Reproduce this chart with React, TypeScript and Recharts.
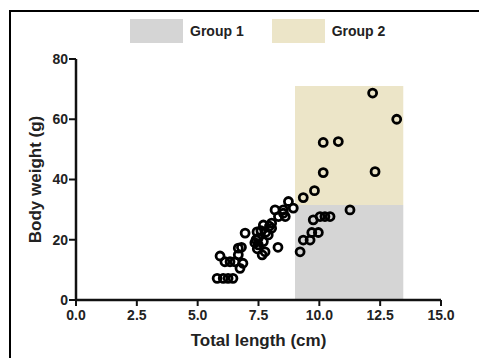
import {
  ScatterChart, Scatter, XAxis, YAxis, ReferenceArea, Legend,
} from 'recharts';

// Scatter points
const lengths = [
  5.8, 6.05, 6.25, 6.45, 5.92, 6.12, 6.33, 6.53, 6.67, 6.67, 6.74, 6.86, 6.8, 6.95,
  7.44, 7.49, 7.49, 7.7, 7.77, 7.65, 7.7, 7.9, 8.04, 8.04, 8.18, 8.32, 8.52, 8.6,
  8.73, 8.93, 8.3, 7.4, 7.45, 7.6, 7.8, 7.95, 7.35, 8.52,
  9.21, 9.34, 9.62, 9.69, 9.96, 9.75, 10.03, 10.23, 10.44, 11.26, 9.34, 9.8,
  10.16, 10.78, 10.16, 12.29, 12.19, 13.18,
];
const weights = [
  7.2, 7.2, 7.2, 7.2, 14.6, 12.7, 12.7, 12.7, 15, 17.2, 10.5, 12.2, 17.5, 22.2,
  22.6, 20.5, 18.3, 19.4, 16, 15, 24.9, 21.6, 23.8, 25.5, 29.9, 27.7, 29.9, 27.7,
  32.7, 30.5, 17.5, 20, 17, 23, 22.5, 24.5, 19, 28.8,
  16, 19.9, 19.9, 22.4, 22.4, 26.6, 27.7, 27.7, 27.7, 29.9, 34, 36.3,
  52.3, 52.6, 42.3, 42.6, 68.7, 60,
];

const groupNames = ['Group 1', 'Group 2'];
const groupColors = ['#d5d5d5', '#ece5c8'];
const groupX = [9, 13.45];
const groupY = [0, 31.5, 71];

const xTicks = [0, 2.5, 5, 7.5, 10, 12.5, 15];
const yTicks = [0, 20, 40, 60, 80];

const points = lengths.map((x, i) => ({ x, y: weights[i] }));

const font = '"Liberation Sans", Arial, sans-serif';

function LegendBox() {
  return (
    <div style={{ display: 'flex', alignItems: 'center', height: 24, paddingBottom: 16, fontFamily: font, fontWeight: 'bold', fontSize: 14, color: '#222' }}>
      {groupNames.map((name, i) => (
        <div key={name} style={{ display: 'flex', alignItems: 'center', marginRight: 28 }}>
          <div style={{ width: 53, height: 24, background: groupColors[i], marginRight: 7 }} />
          <span>{name}</span>
        </div>
      ))}
    </div>
  );
}

const Ring = (props: any) => (
  <circle cx={props.cx} cy={props.cy} r={4} fill="none" stroke="#000" strokeWidth={2.8} />
);

export default function App() {
  const tick = { fontSize: 14, fontWeight: 'bold', fill: '#222', fontFamily: font };
  return (
    <div style={{ position: 'absolute', left: 0, top: 0, width: 479, height: 358, background: '#fff' }}>
      <div style={{ position: 'absolute', left: 9, top: 10, width: 470, height: 348, borderLeft: '2px solid #000', borderTop: '2px solid #000' }} />
      <ScatterChart width={479} height={358} margin={{ top: 19, right: 38, bottom: 0, left: 0 }}>
        <Legend verticalAlign="top" wrapperStyle={{ left: 130, top: 19, width: 300 }} content={() => <LegendBox />} />
        <ReferenceArea x1={groupX[0]} x2={groupX[1]} y1={groupY[0]} y2={groupY[1]} fill={groupColors[0]} fillOpacity={1} stroke="none" />
        <ReferenceArea x1={groupX[0]} x2={groupX[1]} y1={groupY[1]} y2={groupY[2]} fill={groupColors[1]} fillOpacity={1} stroke="none" />
        <XAxis
          type="number"
          dataKey="x"
          domain={[0, 15]}
          ticks={xTicks}
          tickFormatter={(v) => v.toFixed(1)}
          height={58}
          tick={tick}
          tickSize={6}
          tickMargin={4}
          axisLine={{ stroke: '#111', strokeWidth: 2.5 }}
          tickLine={{ stroke: '#111', strokeWidth: 2 }}
          label={{ value: 'Total length (cm)', position: 'insideBottom', offset: 12, style: { fontSize: 17, fontWeight: 'bold', fill: '#222', fontFamily: font } }}
        />
        <YAxis
          type="number"
          dataKey="y"
          domain={[0, 80]}
          ticks={yTicks}
          width={76}
          tick={tick}
          tickSize={7}
          tickMargin={1}
          axisLine={{ stroke: '#111', strokeWidth: 2.5 }}
          tickLine={{ stroke: '#111', strokeWidth: 2 }}
          label={{ value: 'Body weight (g)', angle: -90, position: 'insideLeft', offset: 35, style: { textAnchor: 'middle', fontSize: 17, fontWeight: 'bold', fill: '#222', fontFamily: font } }}
        />
        <Scatter data={points} shape={Ring} isAnimationActive={false} />
      </ScatterChart>
    </div>
  );
}
